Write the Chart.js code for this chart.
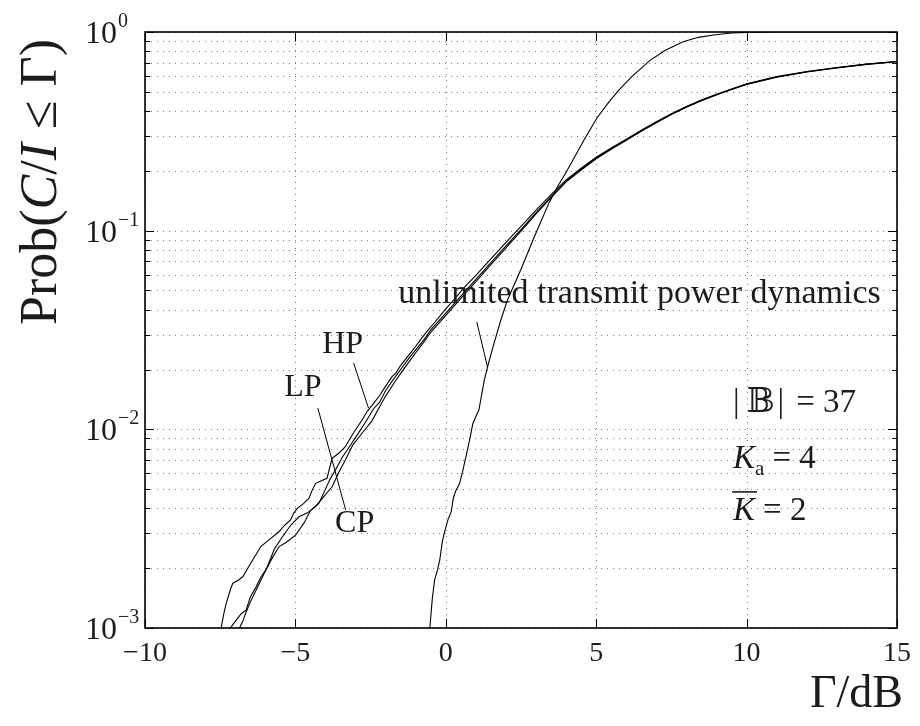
<!DOCTYPE html>
<html>
<head>
<meta charset="utf-8">
<script src="https://cdn.jsdelivr.net/npm/chart.js@4.4.0/dist/chart.umd.min.js"></script>
<style>
  html, body { margin: 0; padding: 0; background: #fff; }
  canvas { display: block; }
</style>
</head>
<body>
<canvas id="c" width="920" height="726"></canvas>
<script>
// ---------- data ----------
const xTicks = [-10, -5, 0, 5, 10, 15];
const yDecades = [0.001, 0.01, 0.1, 1];
const yDecadeBase = ['10', '10', '10', '10'];
const yDecadeExp = ['\u22123', '\u22122', '\u22121', '0'];

// HP curve
const hpX = [-7.55, -7.47, -7.38, -7.30, -7.15, -7.08, -6.90, -6.75, -6.60, -6.42, -6.15, -5.85, -5.54, -5.35, -5.16, -5.05, -4.94, -4.75, -4.55, -4.45, -4.33, -4.15, -3.95, -3.85, -3.78, -3.55, -3.34, -3.05, -2.79, -2.60, -2.45, -2.20, -2.00, -1.80, -1.65, -1.50, -1.20, -1.00, -0.80, -0.60, -0.40, 0, 0.3, 0.6, 1.0, 1.5, 2.0, 2.5, 3.0, 3.5, 4.0, 4.5, 5.0, 5.5, 6.0, 6.5, 7.0, 7.5, 8.0, 8.5, 9.0, 9.5, 10, 11, 12, 13, 14, 15];
const hpY = [0.00092, 0.001, 0.00118, 0.00133, 0.00158, 0.00168, 0.00174, 0.00181, 0.00198, 0.0022, 0.00257, 0.0028, 0.00306, 0.0033, 0.0035, 0.0038, 0.0040, 0.0042, 0.0045, 0.0049, 0.00535, 0.0055, 0.00567, 0.0065, 0.00714, 0.0076, 0.00818, 0.0097, 0.0111, 0.0124, 0.0132, 0.0148, 0.0165, 0.0183, 0.0193, 0.0210, 0.0240, 0.0262, 0.0288, 0.0315, 0.0341, 0.0404, 0.0455, 0.0515, 0.0596, 0.0722, 0.0872, 0.105, 0.127, 0.152, 0.180, 0.206, 0.234, 0.261, 0.289, 0.320, 0.353, 0.388, 0.422, 0.455, 0.486, 0.517, 0.548, 0.596, 0.633, 0.663, 0.690, 0.711];

// LP curve
const lpX = [-7.20, -7.16, -7.00, -6.80, -6.64, -6.50, -6.31, -6.15, -5.98, -5.75, -5.54, -5.30, -4.99, -4.70, -4.50, -4.22, -4.00, -3.85, -3.67, -3.45, -3.20, -2.90, -2.63, -2.40, -2.20, -2.00, -1.70, -1.47, -1.20, -1.00, -0.70, -0.50, 0, 0.5, 1.0, 1.5, 2.0, 2.5, 3.0, 3.5, 4.0, 4.5, 5.0, 5.5, 6.0, 6.5, 7.0, 7.5, 8.0, 8.5, 9.0, 9.5, 10, 11, 12, 13, 14, 15];
const lpY = [0.00092, 0.001, 0.00108, 0.00118, 0.00123, 0.00143, 0.00161, 0.0018, 0.00196, 0.00228, 0.00257, 0.0027, 0.00294, 0.0034, 0.0039, 0.00425, 0.0050, 0.0056, 0.00624, 0.0072, 0.0082, 0.0096, 0.0111, 0.0127, 0.0137, 0.0157, 0.0182, 0.0203, 0.0231, 0.0251, 0.0286, 0.0317, 0.0385, 0.0468, 0.0568, 0.0690, 0.0838, 0.1013, 0.1232, 0.1482, 0.1772, 0.204, 0.232, 0.259, 0.287, 0.318, 0.351, 0.386, 0.420, 0.453, 0.484, 0.515, 0.546, 0.594, 0.631, 0.661, 0.689, 0.710];

// CP curve
const cpX = [-6.90, -6.86, -6.75, -6.64, -6.50, -6.31, -6.10, -5.93, -5.70, -5.43, -5.15, -4.88, -4.60, -4.33, -4.05, -3.78, -3.55, -3.34, -3.10, -2.80, -2.46, -2.20, -2.00, -1.70, -1.47, -1.20, -1.00, -0.70, -0.50, 0, 0.5, 1.0, 1.5, 2.0, 2.5, 3.0, 3.5, 4.0, 4.5, 5.0, 5.5, 6.0, 6.5, 7.0, 7.5, 8.0, 8.5, 9.0, 9.5, 10, 11, 12, 13, 14, 15];
const cpY = [0.00092, 0.001, 0.00108, 0.0012, 0.00135, 0.00155, 0.0018, 0.00204, 0.0025, 0.00288, 0.0033, 0.00363, 0.0038, 0.00408, 0.0046, 0.00514, 0.0061, 0.00701, 0.0083, 0.0095, 0.0110, 0.0130, 0.0147, 0.0173, 0.0194, 0.0221, 0.0243, 0.0279, 0.0308, 0.0375, 0.0456, 0.0554, 0.0674, 0.0820, 0.0995, 0.1215, 0.1465, 0.1760, 0.202, 0.230, 0.257, 0.285, 0.316, 0.349, 0.384, 0.418, 0.451, 0.482, 0.513, 0.544, 0.592, 0.629, 0.659, 0.687, 0.708];

// unlimited transmit power dynamics
const unlX = [-0.60, -0.53, -0.45, -0.37, -0.28, -0.20, -0.12, -0.05, 0.07, 0.18, 0.25, 0.33, 0.46, 0.57, 0.68, 0.79, 0.90, 1.00, 1.10, 1.28, 1.39, 1.60, 1.83, 2.05, 2.50, 2.94, 3.43, 3.71, 4.00, 4.37, 4.59, 5.03, 5.40, 5.75, 6.20, 6.79, 7.30, 7.89, 8.40, 8.90, 9.50, 10.0, 11.0, 15.0];
const unlY = [0.0009, 0.001, 0.0014, 0.00175, 0.00195, 0.0022, 0.0027, 0.0030, 0.0035, 0.00385, 0.0045, 0.0049, 0.00535, 0.00624, 0.00742, 0.00883, 0.0107, 0.0116, 0.0125, 0.0177, 0.0207, 0.027, 0.0355, 0.0448, 0.064, 0.093, 0.138, 0.166, 0.197, 0.248, 0.285, 0.370, 0.440, 0.510, 0.600, 0.720, 0.810, 0.893, 0.940, 0.966, 0.988, 0.996, 1.0, 1.0];

// annotations (data coordinates)
const labelNotes = [
  { text: 'HP', x: -3.43, y: 0.0266 },
  { text: 'LP', x: -4.75, y: 0.0162 },
  { text: 'CP', x: -3.03, y: 0.00334 }
];
const pointerLines = [
  { x1: -3.065, y1: 0.0216, x2: -2.57, y2: 0.0128 },
  { x1: -4.254, y1: 0.0128, x2: -3.329, y2: 0.00393 },
  { x1: 1.03, y1: 0.0347, x2: 1.394, y2: 0.02036 }
];
const unlNote = { text: 'unlimited transmit power dynamics', x: -1.58, y: 0.0432 };
const paramNotes = { x: 9.55, y1: 0.01223, y2: 0.00639, y3: 0.0035 };

// ---------- chart ----------
const FONT = '"Liberation Serif", "DejaVu Serif", serif';
const TXT = '#1c1c1c';

function pts(xs, ys) { return xs.map((v, i) => ({ x: v, y: ys[i] })); }
function ds(label, xs, ys) {
  return { label, data: pts(xs, ys), borderColor: '#000', borderWidth: 1.1, pointRadius: 0, tension: 0, fill: false };
}

function runs(ctx, parts, x, y) {
  let cx = x;
  for (const p of parts) {
    ctx.font = p.font;
    if (p.gap) { cx += p.gap; continue; }
    ctx.fillText(p.t, cx, y + (p.dy || 0));
    cx += ctx.measureText(p.t).width;
  }
  return cx;
}
function runsWidth(ctx, parts) {
  let w = 0;
  for (const p of parts) {
    ctx.font = p.font;
    if (p.gap) { w += p.gap; continue; }
    w += ctx.measureText(p.t).width;
  }
  return w;
}

const decor = {
  id: 'decor',
  beforeDatasetsDraw(chart) {
    const { ctx, chartArea: a, scales: { x, y } } = chart;
    ctx.save();
    ctx.strokeStyle = '#7a7a7a';
    ctx.lineWidth = 1;
    ctx.setLineDash([1, 5]);
    xTicks.forEach(v => {
      const px = Math.round(x.getPixelForValue(v)) + 0.5;
      ctx.beginPath(); ctx.moveTo(px, a.top); ctx.lineTo(px, a.bottom); ctx.stroke();
    });
    for (let d = 0; d < yDecades.length; d++) {
      for (let m = 1; m <= 9; m++) {
        const v = yDecades[d] * m;
        if (v > 1) break;
        const py = Math.round(y.getPixelForValue(v)) + 0.5;
        ctx.beginPath(); ctx.moveTo(a.left, py); ctx.lineTo(a.right, py); ctx.stroke();
      }
    }
    ctx.restore();
  },
  afterDatasetsDraw(chart) {
    const { ctx, chartArea: a, scales: { x, y } } = chart;
    ctx.save();
    ctx.strokeStyle = '#000';
    ctx.setLineDash([]);
    ctx.lineWidth = 1;
    xTicks.forEach(v => {
      const px = Math.round(x.getPixelForValue(v)) + 0.5;
      ctx.beginPath();
      ctx.moveTo(px, a.bottom); ctx.lineTo(px, a.bottom - 9);
      ctx.moveTo(px, a.top); ctx.lineTo(px, a.top + 9);
      ctx.stroke();
    });
    for (let d = 0; d < yDecades.length; d++) {
      for (let m = 1; m <= 9; m++) {
        const v = yDecades[d] * m;
        if (v > 1) break;
        const py = Math.round(y.getPixelForValue(v)) + 0.5;
        const len = m === 1 ? 9 : 5;
        ctx.beginPath();
        ctx.moveTo(a.left, py); ctx.lineTo(a.left + len, py);
        ctx.moveTo(a.right, py); ctx.lineTo(a.right - len, py);
        ctx.stroke();
      }
    }
    ctx.lineWidth = 1.6;
    ctx.strokeRect(a.left, a.top, a.right - a.left, a.bottom - a.top);

    ctx.lineWidth = 1;
    pointerLines.forEach(l => {
      ctx.beginPath();
      ctx.moveTo(x.getPixelForValue(l.x1), y.getPixelForValue(l.y1));
      ctx.lineTo(x.getPixelForValue(l.x2), y.getPixelForValue(l.y2));
      ctx.stroke();
    });
    ctx.restore();
  },
  afterDraw(chart) {
    const { ctx, chartArea: a, scales: { x, y } } = chart;
    ctx.save();
    ctx.fillStyle = TXT;
    ctx.textBaseline = 'alphabetic';
    ctx.textAlign = 'left';

    yDecades.forEach((v, i) => {
      const py = y.getPixelForValue(v);
      ctx.font = `32px ${FONT}`;
      ctx.fillText(yDecadeBase[i], 85, py + 11);
      const w = ctx.measureText(yDecadeBase[i]).width;
      ctx.font = `20px ${FONT}`;
      ctx.fillText(yDecadeExp[i], 85 + w + 1, py - 5);
    });

    const R = `52px ${FONT}`, I = `italic 52px ${FONT}`;
    const yt = [
      { t: 'Prob(', font: R }, { t: 'C', font: I }, { t: '/', font: R }, { t: 'I', font: I },
      { gap: 14, font: R }, { t: '\u2264', font: R }, { gap: 14, font: R }, { t: '\u0393)', font: R }
    ];
    const yw = runsWidth(ctx, yt);
    ctx.save();
    ctx.translate(56, 182);
    ctx.rotate(-Math.PI / 2);
    runs(ctx, yt, -yw / 2, 0);
    ctx.restore();

    const xt = [{ t: '\u0393/dB', font: `46px ${FONT}` }];
    const xw = runsWidth(ctx, xt);
    runs(ctx, xt, 903 - xw, 707);

    ctx.textAlign = 'center';
    ctx.textBaseline = 'middle';
    ctx.font = `32px ${FONT}`;
    labelNotes.forEach(n => {
      ctx.fillText(n.text, x.getPixelForValue(n.x), y.getPixelForValue(n.y));
    });
    ctx.textAlign = 'left';
    ctx.textBaseline = 'alphabetic';
    ctx.font = `34px ${FONT}`;
    ctx.fillText(unlNote.text, x.getPixelForValue(unlNote.x), y.getPixelForValue(unlNote.y));

    const px0 = x.getPixelForValue(paramNotes.x);
    const F = `33px ${FONT}`, FI = `italic 33px ${FONT}`, FS = `21px ${FONT}`;
    runs(ctx, [{ t: '|', font: F }, { gap: 7, font: F }, { t: '\uD835\uDD39', font: F }, { gap: 3, font: F }, { t: '|', font: F }, { gap: 12, font: F }, { t: '= 37', font: F }], px0, y.getPixelForValue(paramNotes.y1));
    runs(ctx, [{ t: 'K', font: FI }, { t: 'a', font: FS, dy: 7 }, { gap: 8, font: F }, { t: '= 4', font: F }], px0, y.getPixelForValue(paramNotes.y2));
    const by = y.getPixelForValue(paramNotes.y3);
    ctx.font = FI;
    const kw = ctx.measureText('K').width;
    runs(ctx, [{ t: 'K', font: FI }, { gap: 8, font: F }, { t: '= 2', font: F }], px0, by);
    ctx.strokeStyle = TXT;
    ctx.lineWidth = 1.6;
    ctx.beginPath();
    ctx.moveTo(px0 - 1, by - 28); ctx.lineTo(px0 + kw + 2, by - 28);
    ctx.stroke();
    ctx.restore();
  }
};

new Chart(document.getElementById('c'), {
  type: 'line',
  data: {
    datasets: [
      ds('HP', hpX, hpY),
      ds('LP', lpX, lpY),
      ds('CP', cpX, cpY),
      ds('unlimited transmit power dynamics', unlX, unlY)
    ]
  },
  options: {
    responsive: false,
    animation: false,
    events: [],
    layout: { padding: { left: 145, top: 32, right: 18, bottom: 0 } },
    plugins: { legend: { display: false }, tooltip: { enabled: false } },
    scales: {
      x: {
        type: 'linear', min: -10, max: 15,
        afterBuildTicks: s => { s.ticks = xTicks.map(v => ({ value: v })); },
        afterFit: s => { s.height = 98; },
        grid: { display: false, drawTicks: false },
        border: { display: false },
        ticks: {
          font: { family: FONT, size: 28 }, color: TXT, padding: 9,
          maxRotation: 0, autoSkip: false,
          callback: v => String(v).replace('-', '\u2212')
        }
      },
      y: {
        type: 'logarithmic', min: 0.001, max: 1,
        afterFit: s => { s.width = 0; },
        grid: { display: false, drawTicks: false },
        border: { display: false },
        ticks: { display: false }
      }
    }
  },
  plugins: [decor]
});
</script>
</body>
</html>
